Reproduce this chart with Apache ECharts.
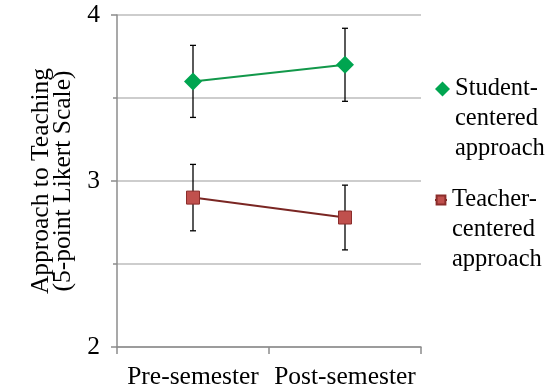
<!DOCTYPE html>
<html>
<head>
<meta charset="utf-8">
<script src="https://cdn.jsdelivr.net/npm/echarts@6/dist/echarts.min.js"></script>
<style>
  html, body { margin: 0; padding: 0; background: #fff; }
  #chart { width: 546px; height: 390px; }
</style>
</head>
<body>
<div id="chart"></div>
<script>
// Semesters on the x axis
const categories = ['Pre-semester', 'Post-semester'];

// Mean scores per approach
const studentMeans = [3.60, 3.70];
const teacherMeans = [2.90, 2.78];

// Half-widths of the error bars
const studentErr = [0.217, 0.22];
const teacherErr = [0.20, 0.195];

// Value-axis ticks
const yMin = 2, yMax = 4, yStep = 1;

const studentName = '\n\nStudent-\ncentered\napproach';
const teacherName = '\n\nTeacher-\ncentered\napproach';

const FONT = '"Liberation Serif", "Times New Roman", serif';
const FS = 25.5;
const GREEN = '#00a550';
const RED = '#c0504d';

function errorData(means, errs) {
  return means.map((m, i) => [i, m - errs[i], m + errs[i]]);
}

function renderErrorBar(params, api) {
  const x = api.value(0);
  const lo = api.coord([x, api.value(1)]);
  const hi = api.coord([x, api.value(2)]);
  const cap = 3;
  const style = { stroke: '#000', lineWidth: 1.3 };
  return {
    type: 'group',
    children: [
      { type: 'line', shape: { x1: lo[0], y1: lo[1], x2: hi[0], y2: hi[1] }, style },
      { type: 'line', shape: { x1: lo[0] - cap, y1: lo[1], x2: lo[0] + cap, y2: lo[1] }, style },
      { type: 'line', shape: { x1: hi[0] - cap, y1: hi[1], x2: hi[0] + cap, y2: hi[1] }, style }
    ]
  };
}

const legendText = { fontFamily: FONT, fontSize: 24.5, color: '#000', lineHeight: 30 };

const option = {
  animation: false,
  backgroundColor: '#fff',
  grid: { left: 117, right: 125, top: 15, bottom: 43 },
  legend: [
    {
      data: [{ name: studentName, icon: 'diamond' }], left: 435, top: 14, padding: 0, orient: 'vertical',
      itemWidth: 15, itemHeight: 15, itemGap: 0, textStyle: legendText
    },
    {
      data: [teacherName], left: 434, top: 125, padding: 0, orient: 'vertical',
      itemWidth: 12, itemHeight: 11, itemGap: 0, textStyle: legendText
    }
  ],
  xAxis: {
    type: 'category',
    data: categories,
    boundaryGap: true,
    axisLine: { lineStyle: { color: '#8c8c8c', width: 1.5 } },
    axisTick: { show: true, length: 7, lineStyle: { color: '#8c8c8c', width: 1.5 } },
    axisLabel: { fontFamily: FONT, fontSize: FS, color: '#000', margin: 17, interval: 0 },
    splitLine: { show: false }
  },
  yAxis: {
    type: 'value',
    min: yMin, max: yMax, interval: yStep,
    name: 'Approach to Teaching\n(5-point Likert Scale)',
    nameLocation: 'middle',
    nameRotate: 90,
    nameGap: 42,
    nameTextStyle: { fontFamily: FONT, fontSize: FS, color: '#000', lineHeight: 22 },
    axisLine: { show: true, lineStyle: { color: '#8c8c8c', width: 1.5 } },
    axisTick: { show: true, length: 6, lineStyle: { color: '#8c8c8c', width: 1.5 } },
    minorTick: { show: true, splitNumber: 2, length: 4, lineStyle: { color: '#8c8c8c', width: 1.5 } },
    axisLabel: { fontFamily: FONT, fontSize: FS, color: '#000', margin: 17 },
    splitLine: { show: true, lineStyle: { color: '#bdbdbd', width: 1.5 } },
    minorSplitLine: { show: true, lineStyle: { color: '#bdbdbd', width: 1.5 } }
  },
  series: [
    {
      type: 'custom',
      renderItem: renderErrorBar,
      data: errorData(studentMeans, studentErr),
      encode: { x: 0, y: [1, 2] },
      z: 1
    },
    {
      type: 'custom',
      renderItem: renderErrorBar,
      data: errorData(teacherMeans, teacherErr),
      encode: { x: 0, y: [1, 2] },
      z: 1
    },
    {
      name: studentName,
      type: 'line',
      data: studentMeans,
      symbol: 'diamond',
      symbolSize: 18,
      itemStyle: { color: GREEN },
      lineStyle: { color: '#12984a', width: 2 },
      z: 3
    },
    {
      name: teacherName,
      type: 'line',
      data: teacherMeans,
      symbol: 'rect',
      symbolSize: 13,
      itemStyle: { color: RED, borderColor: '#8b2d2b', borderWidth: 1 },
      lineStyle: { color: '#7a2623', width: 2 },
      z: 3
    }
  ]
};

const chart = echarts.init(document.getElementById('chart'), null, { renderer: 'canvas' });
chart.setOption(option);
</script>
</body>
</html>
